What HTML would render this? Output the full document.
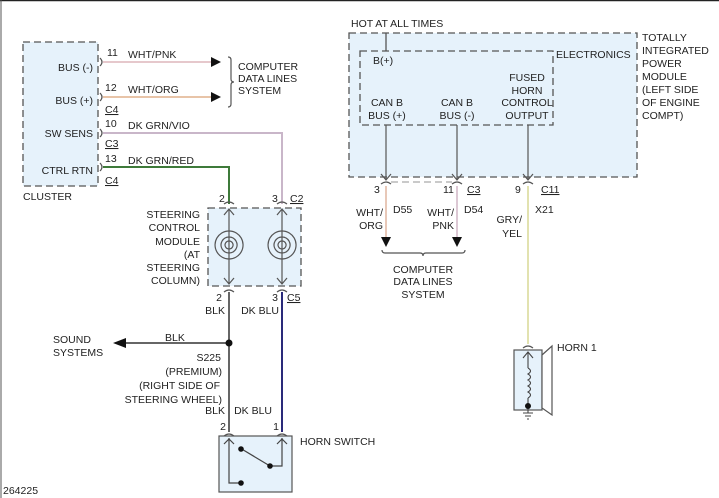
<!DOCTYPE html>
<html><head><style>
html,body{margin:0;padding:0;background:#fff;}
svg{display:block;font-family:"Liberation Sans",sans-serif;font-size:10.5px;fill:#222;}
</style></head><body>
<svg width="719" height="498" viewBox="0 0 719 498" xmlns="http://www.w3.org/2000/svg">
<line x1="0" y1="0.5" x2="719" y2="0.5" stroke="#222" stroke-width="1.5"/>
<line x1="1" y1="0" x2="1" y2="498" stroke="#555" stroke-width="1"/>
<g stroke="#555" stroke-width="1.3" stroke-dasharray="7,4">
<rect x="23" y="42" width="75" height="144" fill="#e6f2fb"/>
<rect x="349" y="33" width="288" height="144" fill="#e6f2fb"/>
<rect x="360" y="51" width="193" height="74" fill="#e6f2fb"/>
<rect x="208" y="208" width="93" height="78" fill="#e6f2fb"/>
</g>
<line x1="386" y1="33" x2="386" y2="51" stroke="#555" stroke-width="1.3"/>
<g text-anchor="end">
<text x="93" y="71">BUS (-)</text><text x="93" y="104">BUS (+)</text>
<text x="93" y="137">SW SENS</text><text x="93" y="174">CTRL RTN</text>
</g>
<text x="23" y="200">CLUSTER</text>
<g fill="none" stroke-width="2">
<line x1="103" y1="62" x2="212" y2="62" stroke="#e6c8cc"/>
<line x1="103" y1="97" x2="212" y2="97" stroke="#e8c4a8"/>
<polyline points="103,133 282,133 282,204" stroke="#c9b6c9"/>
<polyline points="103,167 229,167 229,204" stroke="#3e7a3a"/>
<line x1="386" y1="186" x2="386" y2="238" stroke="#e8c8b8"/>
<line x1="457" y1="186" x2="457" y2="238" stroke="#dcc8d4"/>
<line x1="528" y1="186" x2="528" y2="344" stroke="#e2e2b0"/>
<line x1="229" y1="292" x2="229" y2="432" stroke="#666"/>
<line x1="282" y1="292" x2="282" y2="432" stroke="#2a2a7a"/>
<line x1="229" y1="343" x2="125" y2="343" stroke="#666"/>
</g>
<g fill="#111">
<polygon points="211,57 221,62 211,67"/><polygon points="211,92 221,97 211,102"/>
<polygon points="381,237 391,237 386,247"/><polygon points="452,237 462,237 457,247"/>
<polygon points="126,338 126,348 113,343"/>
<circle cx="229" cy="343" r="3.5"/>
</g>
<g fill="none" stroke="#555" stroke-width="1.2">
<path d="M100,58 q4,4 0,8 M100,93 q4,4 0,8 M100,129 q4,4 0,8 M100,163 q4,4 0,8"/>
<path d="M224,204 q5,-4 10,0 M277,204 q5,-4 10,0 M224,292 q5,-4 10,0 M277,292 q5,-4 10,0"/>
<path d="M381,184 q5,-4 10,0 M452,184 q5,-4 10,0 M523,184 q5,-4 10,0 M523,348 q5,-4 10,0"/>
<path d="M224,436 q5,-4 10,0 M277,436 q5,-4 10,0"/>
<path d="M228,57 q3,0 3,3 v19 q0,3 3,3 q-3,0 -3,3 v19 q0,3 -3,3"/>
<path d="M382,250 q0,3 3,3 h35 q3,0 3,3 q0,-3 3,-3 h36 q3,0 3,-3"/>
<line x1="391" y1="182" x2="452" y2="182" stroke="#aaa" stroke-dasharray="7,4"/>
<line x1="386" y1="125" x2="386" y2="180"/><line x1="457" y1="125" x2="457" y2="180"/><line x1="528" y1="125" x2="528" y2="180"/>
<path d="M381,174 l5,6 l5,-6 M452,174 l5,6 l5,-6 M523,174 l5,6 l5,-6"/>
<line x1="229" y1="210" x2="229" y2="284"/><line x1="282" y1="210" x2="282" y2="284"/>
<path d="M224,215 l5,-6 l5,6 M277,215 l5,-6 l5,6 M224,278 l5,6 l5,-6 M277,278 l5,6 l5,-6"/>
<path d="M229,259 a14,14 0 1 1 0.1,0 M229,253 a8,8 0 1 1 0.1,0 M229,249 a4,4 0 1 1 0.1,0"/>
<path d="M282,259 a14,14 0 1 1 0.1,0 M282,253 a8,8 0 1 1 0.1,0 M282,249 a4,4 0 1 1 0.1,0"/>
</g>
<rect x="219" y="436" width="73" height="56" fill="#e6f2fb" stroke="#555" stroke-width="1.2"/>
<g fill="none" stroke="#444" stroke-width="1.2">
<polyline points="229,438 229,483 240,483"/><polyline points="282,438 282,466 270,466"/>
<line x1="240" y1="448" x2="270" y2="466"/>
<path d="M224,444 l5,-5 l5,5 M277,444 l5,-5 l5,5"/>
</g>
<g fill="#111"><circle cx="241" cy="449" r="2.8"/><circle cx="270" cy="466" r="2.8"/><circle cx="241" cy="483" r="2.8"/></g>
<rect x="514" y="350" width="28" height="60" fill="#e6f2fb" stroke="#555" stroke-width="1.2"/>
<polygon points="542,355 552,346 552,415 542,408" fill="#fff" stroke="#555" stroke-width="1.2"/>
<g fill="none" stroke="#444" stroke-width="1.1">
<line x1="528" y1="352" x2="528" y2="368"/><path d="M523,358 l5,-6 l5,6"/>
<path d="M528,368 q5,3 0,6 q5,3 0,6 q5,3 0,6 q5,3 0,6 q5,3 0,6"/>
<line x1="528" y1="398" x2="528" y2="413"/>
<path d="M523,413 h10 M525,416 h6 M527,419 h2"/>
</g>
<circle cx="528" cy="406" r="3" fill="#111"/>
<text x="107" y="56">11</text><text x="128" y="58">WHT/PNK</text>
<text x="105" y="91">12</text><text x="128" y="93">WHT/ORG</text>
<text x="105" y="113" text-decoration="underline">C4</text>
<text x="105" y="127">10</text><text x="128" y="129">DK GRN/VIO</text>
<text x="105" y="147" text-decoration="underline">C3</text>
<text x="105" y="162">13</text><text x="128" y="164">DK GRN/RED</text>
<text x="105" y="184" text-decoration="underline">C4</text>
<text x="238" y="70">COMPUTER</text><text x="238" y="82">DATA LINES</text><text x="238" y="94">SYSTEM</text>
<text x="219" y="202">2</text><text x="272" y="202">3</text><text x="290" y="202" text-decoration="underline">C2</text>
<g text-anchor="end"><text x="200" y="218">STEERING</text><text x="200" y="231">CONTROL</text><text x="200" y="245">MODULE</text><text x="200" y="258">(AT</text><text x="200" y="271">STEERING</text><text x="200" y="284">COLUMN)</text>
<text x="222" y="301">2</text><text x="278" y="301">3</text>
<text x="225" y="314">BLK</text><text x="279" y="314">DK BLU</text>
<text x="221" y="361">S225</text><text x="222" y="375">(PREMIUM)</text><text x="220" y="389">(RIGHT SIDE OF</text><text x="222" y="403">STEERING WHEEL)</text>
<text x="225" y="414">BLK</text><text x="272" y="414">DK BLU</text>
<text x="226" y="430">2</text><text x="279" y="430">1</text>
<text x="383" y="216">WHT/</text><text x="383" y="229">ORG</text><text x="454" y="216">WHT/</text><text x="454" y="229">PNK</text>
<text x="522" y="223">GRY/</text><text x="522" y="237">YEL</text>
</g>
<text x="287" y="301" text-decoration="underline">C5</text>
<text x="165" y="341">BLK</text>
<text x="53" y="343">SOUND</text><text x="53" y="356">SYSTEMS</text>
<text x="300" y="445">HORN SWITCH</text>
<text x="351" y="27">HOT AT ALL TIMES</text>
<text x="373" y="64">B(+)</text><text x="556" y="58">ELECTRONICS</text>
<text x="642" y="41">TOTALLY</text><text x="642" y="54">INTEGRATED</text><text x="642" y="67">POWER</text><text x="642" y="80">MODULE</text><text x="642" y="93">(LEFT SIDE</text><text x="642" y="106">OF ENGINE</text><text x="642" y="119">COMPT)</text>
<g text-anchor="middle">
<text x="387" y="106">CAN B</text><text x="387" y="119">BUS (+)</text>
<text x="457" y="106">CAN B</text><text x="457" y="119">BUS (-)</text>
<text x="527" y="81">FUSED</text><text x="527" y="94">HORN</text><text x="527" y="106">CONTROL</text><text x="527" y="119">OUTPUT</text>
<text x="423" y="273">COMPUTER</text><text x="423" y="285">DATA LINES</text><text x="423" y="298">SYSTEM</text>
</g>
<text x="374" y="193">3</text><text x="443" y="193">11</text><text x="467" y="193" text-decoration="underline">C3</text>
<text x="515" y="193">9</text><text x="541" y="193" text-decoration="underline">C11</text>
<text x="393" y="213">D55</text><text x="464" y="213">D54</text><text x="535" y="213">X21</text>
<text x="557" y="351">HORN 1</text>
<text x="3" y="494">264225</text>
</svg>
</body></html>
